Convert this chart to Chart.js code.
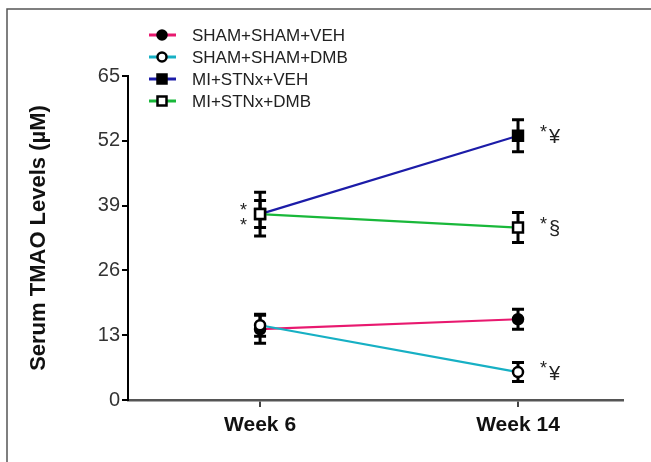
<!DOCTYPE html>
<html>
<head>
<meta charset="utf-8">
<script src="https://cdn.jsdelivr.net/npm/chart.js@4"></script>
<style>
  html, body { margin: 0; padding: 0; background: #fff; }
  #wrap { width: 651px; height: 462px; }
</style>
</head>
<body>
<div id="wrap"><canvas id="myChart" width="651" height="462"></canvas></div>
<script>
// data
const weeks = ['Week 6', 'Week 14'];
const yTicks = [0, 13, 26, 39, 52, 65];
const groups = ['SHAM+SHAM+VEH', 'SHAM+SHAM+DMB', 'MI+STNx+VEH', 'MI+STNx+DMB'];
const shamVeh = [14.2, 16.2];
const shamDmb = [15.0, 5.6];
const miVeh = [37.3, 53.0];
const miDmb = [37.3, 34.6];
const shamVehErr = [2.8, 2.0];
const shamDmbErr = [2.2, 1.9];
const miVehErr = [2.7, 3.2];
const miDmbErr = [4.4, 3.0];
// significance marks: [group index, week index, text]
const marks = [
  [2, 1, '*¥'],
  [3, 1, '*§'],
  [1, 1, '*¥'],
];

const lineColors = ['#e8196f', '#17b0c4', '#1c1ca8', '#19b83a'];
const pointStyles = ['circle', 'circle', 'rect', 'rect'];
const fills = ['#000', '#fff', '#000', '#fff'];
const values = [shamVeh, shamDmb, miVeh, miDmb];
const errors = [shamVehErr, shamDmbErr, miVehErr, miDmbErr];

const datasets = groups.map((g, i) => ({
  label: g,
  data: values[i].map((v, k) => ({ x: k, y: v })),
  errs: errors[i],
  borderColor: lineColors[i],
  borderWidth: 2.2,
  pointStyle: pointStyles[i],
  pointRadius: pointStyles[i] === 'rect' ? 7 : 5,
  pointBackgroundColor: fills[i],
  pointBorderColor: '#000',
  pointBorderWidth: 2.5,
  order: 4 - i,
}));

const frame = {
  id: 'frame',
  beforeDraw(chart) {
    const c = chart.ctx;
    c.save();
    c.fillStyle = '#fff';
    c.fillRect(0, 0, chart.width, chart.height);
    c.strokeStyle = '#555';
    c.lineWidth = 1.5;
    c.beginPath();
    c.moveTo(7, chart.height);
    c.lineTo(7, 9);
    c.lineTo(chart.width, 9);
    c.stroke();
    c.restore();
  }
};

const errorBars = {
  id: 'errorBars',
  beforeDatasetsDraw(chart) {
    const c = chart.ctx;
    const xs = chart.scales.x, ys = chart.scales.y;
    c.save();
    c.strokeStyle = '#000';
    c.lineWidth = 3;
    chart.data.datasets.forEach(ds => {
      ds.data.forEach((p, k) => {
        const e = ds.errs[k];
        const x = xs.getPixelForValue(p.x);
        const y1 = ys.getPixelForValue(p.y + e);
        const y2 = ys.getPixelForValue(p.y - e);
        c.beginPath();
        c.moveTo(x, y1); c.lineTo(x, y2);
        c.moveTo(x - 6, y1); c.lineTo(x + 6, y1);
        c.moveTo(x - 6, y2); c.lineTo(x + 6, y2);
        c.stroke();
      });
    });
    c.restore();
  },
  afterDatasetsDraw(chart) {
    const c = chart.ctx;
    const xs = chart.scales.x, ys = chart.scales.y;
    c.save();
    c.fillStyle = '#222';
    c.textBaseline = 'middle';
    marks.forEach(([g, k, txt]) => {
      const x = xs.getPixelForValue(k) + 22;
      const y = ys.getPixelForValue(values[g][k]);
      c.font = '18px "Liberation Sans", Arial, sans-serif';
      c.fillText(txt[0], x, y - 3);
      c.font = '20px "Liberation Sans", Arial, sans-serif';
      c.fillText(txt.slice(1), x + 9, y + 2);
    });
    // two stars left of week 6 error bars
    const x6 = xs.getPixelForValue(0) - 20;
    const y6 = ys.getPixelForValue(miVeh[0]);
    c.font = '18px "Liberation Sans", Arial, sans-serif';
    c.fillText('*', x6, y6 - 3);
    c.fillText('*', x6, y6 + 12);
    c.restore();
  }
};

const legendBox = {
  id: 'legendBox',
  afterDraw(chart) {
    const c = chart.ctx;
    c.save();
    chart.data.datasets.forEach((ds, i) => {
      const y = 35 + i * 22;
      c.strokeStyle = ds.borderColor;
      c.lineWidth = 3;
      c.beginPath();
      c.moveTo(149, y); c.lineTo(176, y);
      c.stroke();
      c.fillStyle = ds.pointBackgroundColor;
      c.strokeStyle = '#000';
      c.lineWidth = 2.5;
      c.beginPath();
      if (ds.pointStyle === 'circle') {
        c.arc(162, y, 4.5, 0, Math.PI * 2);
      } else {
        c.rect(157.5, y - 4.5, 9, 9);
      }
      c.fill();
      c.stroke();
      c.fillStyle = '#222';
      c.font = '17px "Liberation Sans", Arial, sans-serif';
      c.textBaseline = 'middle';
      c.fillText(ds.label, 192, y + 1);
    });
    c.restore();
  }
};

new Chart(document.getElementById('myChart'), {
  type: 'line',
  data: { datasets },
  plugins: [frame, errorBars, legendBox],
  options: {
    animation: false,
    responsive: false,
    layout: { padding: { top: 76, right: 28, left: 26, bottom: 0 } },
    plugins: { legend: { display: false }, tooltip: { enabled: false } },
    scales: {
      x: {
        type: 'linear',
        min: -0.512,
        max: 1.407,
        afterBuildTicks: s => { s.ticks = [{ value: 0 }, { value: 1 }]; },
        afterFit: s => { s.height = 62; },
        ticks: {
          callback: v => weeks[v],
          color: '#111',
          font: { family: '"Liberation Sans", Arial, sans-serif', size: 21, weight: 'bold' },
          padding: 6,
          maxRotation: 0,
        },
        grid: { drawOnChartArea: false, color: '#444', lineWidth: 2, tickLength: 7 },
        border: { color: '#555', width: 2.5 },
      },
      y: {
        min: 0,
        max: 65,
        afterBuildTicks: s => { s.ticks = yTicks.map(v => ({ value: v })); },
        afterFit: s => { s.width = 102; },
        ticks: {
          color: '#333',
          font: { family: '"Liberation Sans", Arial, sans-serif', size: 20 },
          padding: 2,
        },
        grid: { drawOnChartArea: false, color: '#000', lineWidth: 2, tickLength: 6 },
        border: { color: '#000', width: 2 },
        title: {
          display: true,
          text: 'Serum TMAO Levels (µM)',
          color: '#111',
          font: { family: '"Liberation Sans", Arial, sans-serif', size: 22, weight: 'bold' },
          padding: { top: 0, bottom: 12 },
        },
      },
    },
  },
});
</script>
</body>
</html>
